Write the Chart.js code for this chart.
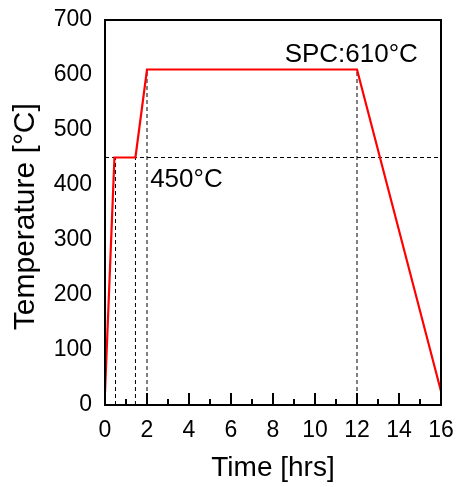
<!DOCTYPE html>
<html>
<head>
<meta charset="utf-8">
<script src="https://cdn.jsdelivr.net/npm/chart.js@4/dist/chart.umd.min.js"></script>
<style>
html,body{margin:0;padding:0;background:#fff;}
canvas{display:block;}
</style>
</head>
<body>
<canvas id="c" width="457" height="487"></canvas>
<script>
// ---- data ----
const profileTime = [0, 0.45, 1.45, 2, 12, 16];
const profileTemp = [23, 450, 450, 610, 610, 25];
const guideTimes = [0.5, 1.45, 2, 12];
const guideTops = [450, 450, 610, 610];
const holdTemp = 450;
const xTickLabels = [0, 2, 4, 6, 8, 10, 12, 14, 16];
const yTickLabels = [0, 100, 200, 300, 400, 500, 600, 700];
const annotTexts = ['450°C', 'SPC:610°C'];
const annotX = [2.15, 14.9];
const annotY = [397, 624];
const annotAlign = ['left', 'right'];

const FONT = '"Liberation Sans", Arial, sans-serif';

const datasets = [];
datasets.push({
  data: profileTime.map((t, i) => ({x: t, y: profileTemp[i]})),
  borderColor: '#ff0000', borderWidth: 2.2, pointRadius: 0, tension: 0, fill: false
});
datasets.push({
  data: [{x: 0, y: holdTemp}, {x: 16, y: holdTemp}],
  borderColor: '#000', borderWidth: 1, borderDash: [4, 3], pointRadius: 0, fill: false
});
guideTimes.forEach((t, i) => {
  datasets.push({
    data: [{x: t, y: 0}, {x: t, y: guideTops[i]}],
    borderColor: '#000', borderWidth: 1, borderDash: [4, 3], pointRadius: 0, fill: false
  });
});

const framePlugin = {
  id: 'frame',
  afterDraw(chart) {
    const ctx = chart.ctx, a = chart.chartArea;
    const xs = chart.scales.x, ys = chart.scales.y;
    ctx.save();
    ctx.setLineDash([]);
    ctx.fillStyle = '#000000';
    // inward ticks on x axis
    for (let v = xs.min; v <= xs.max; v += 1) {
      const px = xs.getPixelForValue(v);
      const len = (v % 2 === 0) ? 12 : 6;
      ctx.fillRect(px - 1, a.bottom - len, 2, len);
    }
    // frame
    const L = Math.round(a.left), R = Math.round(a.right), T = Math.round(a.top), B = Math.round(a.bottom);
    ctx.fillRect(L - 1, T - 1, R - L + 2, 2);
    ctx.fillRect(L - 1, B - 1, R - L + 2, 2);
    ctx.fillRect(L - 1, T - 1, 2, B - T + 2);
    ctx.fillRect(R - 1, T - 1, 2, B - T + 2);
    // annotations
    ctx.font = '26px ' + FONT;
    ctx.textBaseline = 'alphabetic';
    annotTexts.forEach((t, i) => {
      ctx.textAlign = annotAlign[i];
      ctx.fillText(t, xs.getPixelForValue(annotX[i]), ys.getPixelForValue(annotY[i]));
    });
    ctx.restore();
  }
};

new Chart(document.getElementById('c'), {
  type: 'line',
  data: {datasets},
  options: {
    responsive: false,
    animation: false,
    devicePixelRatio: 1,
    layout: {padding: {left: 0, right: 16, top: 20, bottom: 0}},
    plugins: {legend: {display: false}, tooltip: {enabled: false}},
    scales: {
      x: {
        type: 'linear', min: 0, max: 16,
        grid: {display: false, drawTicks: false},
        border: {display: false},
        afterBuildTicks(s) { s.ticks = xTickLabels.map(v => ({value: v})); },
        afterFit(s) { s.height = 82; s.paddingLeft = 0; s.paddingRight = 0; },
        ticks: {color: '#000', font: {family: FONT, size: 23}, padding: 12, maxRotation: 0, autoSkip: false},
        title: {display: true, text: 'Time [hrs]', color: '#000', font: {family: FONT, size: 28}, padding: {top: 0, bottom: 2}}
      },
      y: {
        type: 'linear', min: 0, max: 700,
        grid: {display: false, drawTicks: false},
        border: {display: false},
        afterBuildTicks(s) { s.ticks = yTickLabels.map(v => ({value: v})); },
        afterFit(s) { s.width = 105; s.paddingTop = 0; s.paddingBottom = 0; },
        ticks: {color: '#000', font: {family: FONT, size: 23}, padding: 13},
        title: {display: true, text: 'Temperature [°C] ', color: '#000', font: {family: FONT, size: 30}, padding: {top: 8, bottom: 0}}
      }
    }
  },
  plugins: [framePlugin]
});
</script>
</body>
</html>
